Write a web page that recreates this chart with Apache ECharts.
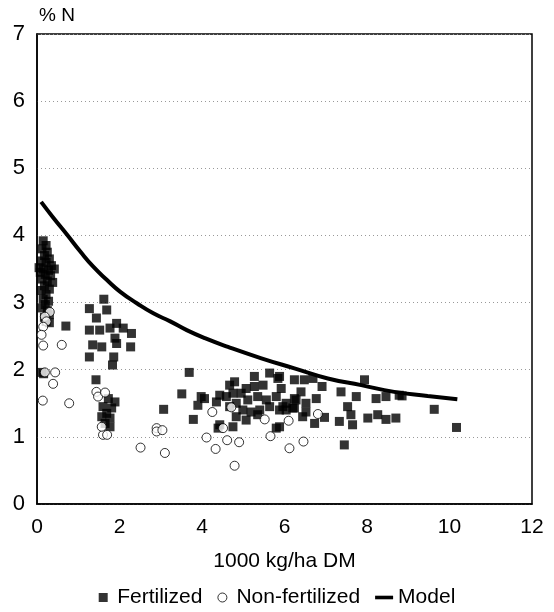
<!DOCTYPE html>
<html>
<head>
<meta charset="utf-8">
<script src="https://cdn.jsdelivr.net/npm/echarts@6/dist/echarts.min.js"></script>
<style>
html,body{margin:0;padding:0;background:#fff;}
#chart{width:554px;height:612px;}
</style>
</head>
<body>
<div id="chart"></div>
<script>
const xTicks = [0, 2, 4, 6, 8, 10, 12];
const yTicks = [0, 1, 2, 3, 4, 5, 6, 7];

const fertilized = [
  [0.15,3.92],[0.22,3.85],[0.12,3.80],[0.25,3.75],[0.18,3.70],[0.30,3.65],[0.10,3.62],[0.22,3.60],
  [0.35,3.55],[0.05,3.52],[0.15,3.50],[0.28,3.48],[0.42,3.50],[0.08,3.45],[0.20,3.42],[0.33,3.40],
  [0.12,3.35],[0.25,3.32],[0.38,3.30],[0.18,3.25],[0.30,3.20],[0.10,3.18],[0.22,3.12],[0.15,3.05],
  [0.28,3.02],[0.20,2.97],[0.12,2.92],[0.25,2.88],[0.30,2.82],[0.18,2.78],[0.22,2.72],[0.30,2.70],
  [0.11,1.96],[0.16,1.94],[0.70,2.65],
  [1.62,3.05],[1.27,2.91],[1.69,2.89],[1.44,2.77],[1.27,2.59],[1.52,2.59],[1.77,2.62],[1.93,2.69],
  [2.09,2.62],[2.29,2.54],[1.89,2.47],[1.93,2.39],[1.35,2.37],[1.57,2.34],[2.27,2.34],[1.27,2.19],
  [1.86,2.19],[1.83,2.07],[1.43,1.85],
  [1.73,1.57],[1.89,1.52],[1.60,1.45],[1.81,1.43],[1.69,1.35],[1.57,1.30],[1.77,1.28],[1.65,1.20],[1.77,1.15],
  [3.69,1.96],[3.51,1.64],[3.07,1.41],[3.79,1.26],[3.90,1.47],[4.06,1.57],[3.98,1.60],
  [4.35,1.52],[4.43,1.62],[4.67,1.77],[4.79,1.82],[4.95,1.65],[4.75,1.65],[5.07,1.72],[5.27,1.90],
  [5.27,1.75],[5.48,1.77],[5.64,1.95],[5.84,1.87],[5.92,1.72],[6.24,1.85],[4.59,1.60],[4.83,1.50],
  [5.11,1.55],[5.35,1.60],[5.56,1.55],[5.80,1.60],[6.04,1.50],[6.28,1.55],[4.67,1.45],[4.99,1.40],
  [5.19,1.37],[5.40,1.40],[5.64,1.45],[5.88,1.40],[6.20,1.43],[4.83,1.30],[5.07,1.25],[5.35,1.33],
  [4.43,1.18],[4.75,1.15],[5.80,1.13],[4.39,1.13],
  [5.88,1.90],[6.48,1.85],[6.69,1.87],[6.91,1.75],[7.37,1.67],[7.74,1.60],[7.94,1.85],[8.22,1.57],
  [8.46,1.60],[8.78,1.62],[6.40,1.67],[6.24,1.57],[6.77,1.57],[6.52,1.50],[5.96,1.45],[6.24,1.43],
  [6.52,1.37],[6.04,1.40],[6.44,1.30],[6.73,1.20],[6.97,1.29],[7.33,1.23],[7.53,1.45],[7.61,1.33],
  [7.65,1.18],[8.02,1.28],[8.26,1.33],[8.46,1.26],[8.70,1.28],[7.45,0.88],[5.88,1.15],
  [8.85,1.61],[9.63,1.41],[10.17,1.14]
];

const nonFertilized = [
  [0.31,2.86],[0.19,2.79],[0.23,2.72],[0.15,2.64],[0.11,2.52],[0.15,2.36],[0.60,2.37],[0.44,1.96],
  [0.19,1.96],[0.39,1.79],[0.14,1.54],[0.78,1.50],[1.44,1.67],[1.48,1.60],[1.65,1.66],[1.60,1.03],
  [1.70,1.03],[1.57,1.15],
  [2.51,0.84],[3.10,0.76],[2.90,1.13],[2.90,1.08],[3.04,1.10],[4.11,0.99],[4.25,1.37],[4.33,0.82],
  [4.61,0.95],[4.90,0.92],[4.79,0.57],[4.71,1.44],[4.51,1.13],[5.52,1.26],[5.66,1.01],[6.10,1.24],
  [6.12,0.83],[6.81,1.34],[6.46,0.93]
];

const model = [
  [0.10,4.50],[0.40,4.26],[0.73,4.01],[1.05,3.76],[1.37,3.53],[1.69,3.34],[2.02,3.16],[2.42,2.99],
  [2.82,2.84],[3.23,2.72],[3.63,2.59],[4.07,2.47],[4.63,2.34],[5.44,2.17],[6.24,2.02],[7.05,1.87],
  [7.86,1.77],[8.66,1.67],[9.47,1.61],[10.19,1.56]
];

const FONT = '"Liberation Sans", Arial, sans-serif';
const chart = echarts.init(document.getElementById('chart'), null, {renderer: 'canvas'});
chart.setOption({
  animation: false,
  backgroundColor: '#fff',
  grid: {left: 37, right: 22, top: 34, bottom: 108, show: true, borderColor: '#000', borderWidth: 1.5, backgroundColor: 'transparent'},
  xAxis: {
    type: 'value', min: xTicks[0], max: xTicks[xTicks.length - 1], interval: 2,
    name: '1000 kg/ha DM', nameLocation: 'middle', nameGap: 47,
    nameTextStyle: {fontFamily: FONT, fontSize: 21, color: '#000'},
    axisLine: {show: true, lineStyle: {color: '#000', width: 1.5}},
    axisTick: {show: false},
    axisLabel: {fontFamily: FONT, fontSize: 21, color: '#000', margin: 13},
    splitLine: {show: false}
  },
  yAxis: {
    type: 'value', min: yTicks[0], max: yTicks[yTicks.length - 1], interval: 1,
    name: '% N', nameLocation: 'end', nameGap: 9,
    nameTextStyle: {fontFamily: FONT, fontSize: 19, color: '#000', align: 'left', padding: [0, 0, 0, 2]},
    axisLine: {show: true, lineStyle: {color: '#000', width: 1.5}},
    axisTick: {show: false},
    axisLabel: {fontFamily: FONT, fontSize: 22, color: '#000', margin: 12},
    splitLine: {show: true, lineStyle: {color: '#999', type: [1, 3], width: 1}}
  },
  legend: {
    bottom: 4, left: 'center', itemGap: 15, itemWidth: 18, itemHeight: 9, padding: [0, 5],
    textStyle: {fontFamily: FONT, fontSize: 21, color: '#000'},
    data: [
      {name: 'Fertilized', icon: 'path://M0,0H10V10H0Z', itemStyle: {color: '#000'}},
      {name: 'Non-fertilized', icon: 'circle', itemStyle: {color: '#fff', borderColor: '#000', borderWidth: 1}},
      {name: 'Model', icon: 'path://M0,0H20V4H0Z', itemStyle: {color: '#000'}}
    ]
  },
  series: [
    {
      name: 'Fertilized', type: 'scatter', data: fertilized, symbol: 'rect', symbolSize: 9,
      itemStyle: {color: '#000'}, z: 2
    },
    {
      name: 'Non-fertilized', type: 'scatter', data: nonFertilized, symbol: 'circle', symbolSize: 9,
      itemStyle: {color: '#fff', borderColor: '#000', borderWidth: 1}, z: 3
    },
    {
      name: 'Model', type: 'line', data: model, smooth: true, showSymbol: false, symbol: 'none',
      lineStyle: {color: '#000', width: 4}, itemStyle: {color: '#000'}, z: 4
    }
  ]
});
</script>
</body>
</html>
